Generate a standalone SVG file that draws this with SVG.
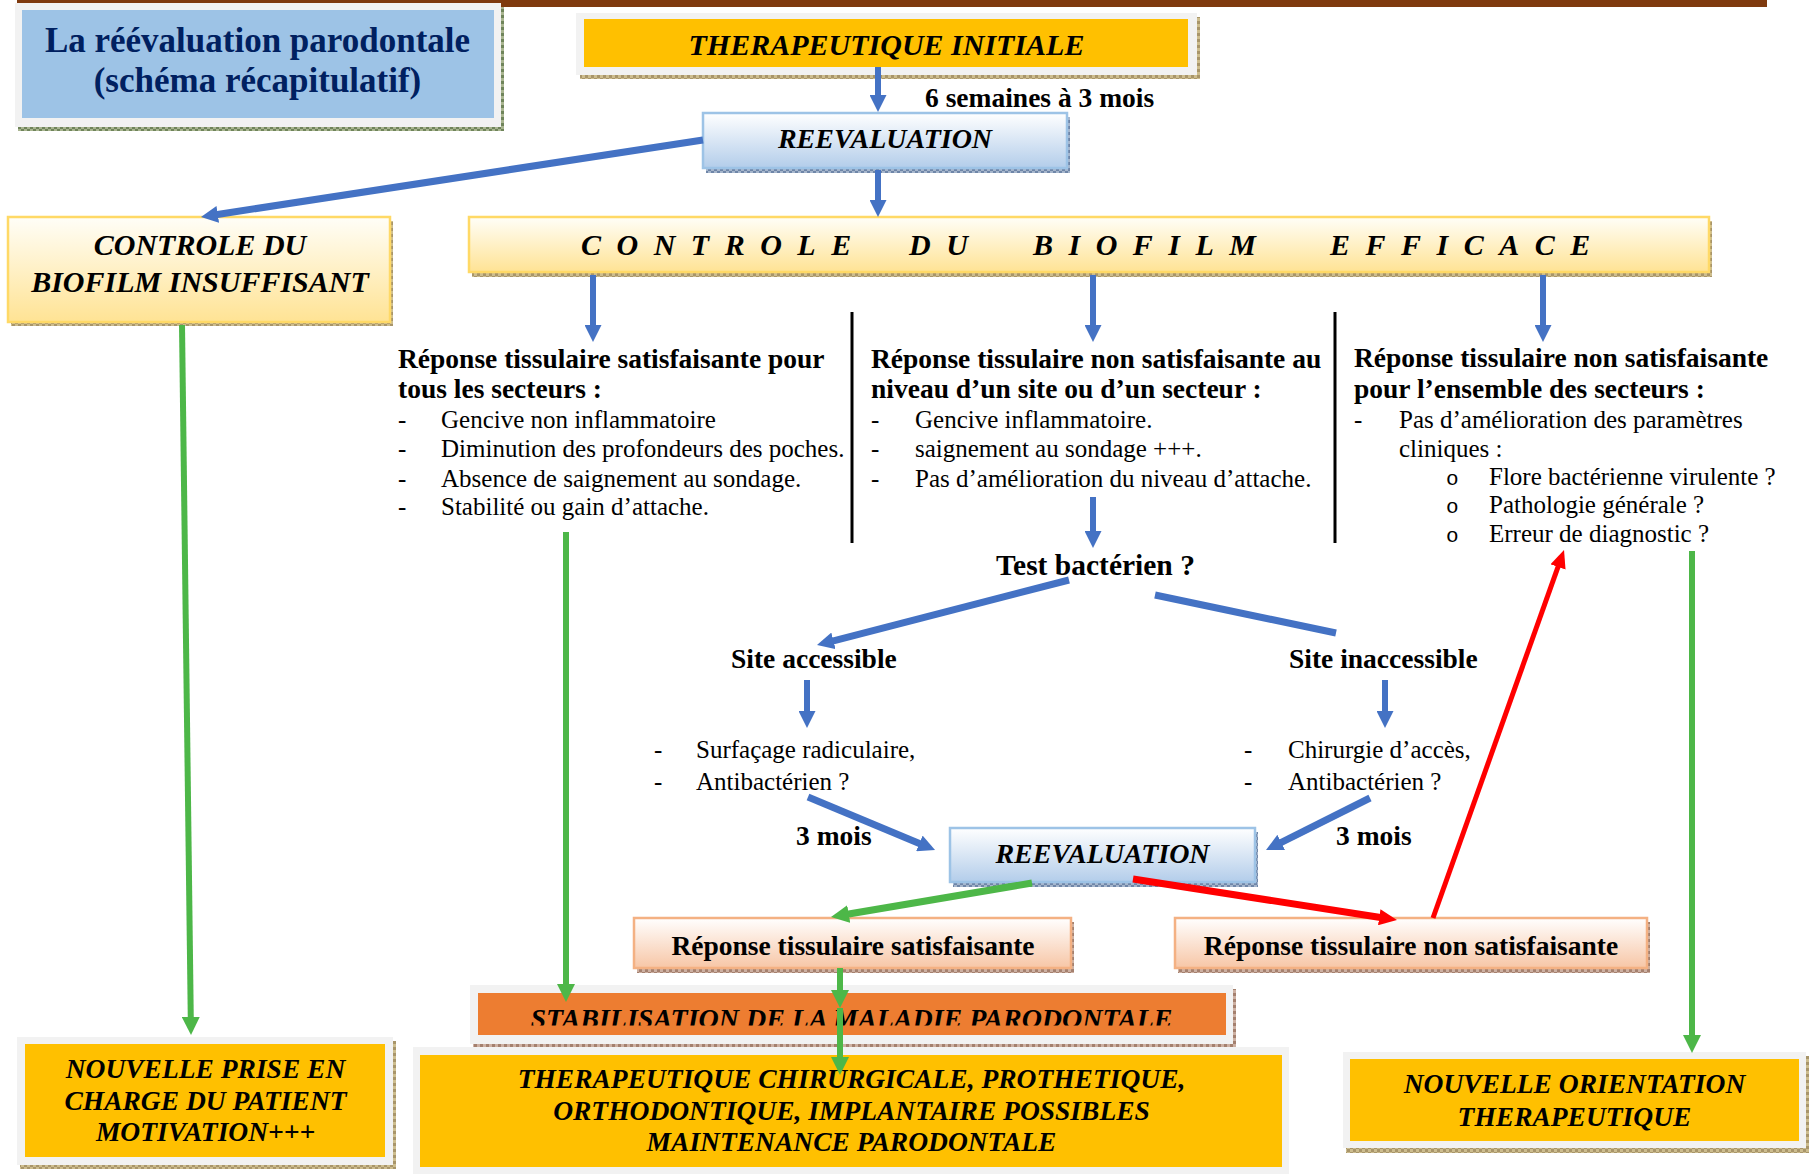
<svg xmlns="http://www.w3.org/2000/svg" width="1811" height="1174" viewBox="0 0 1811 1174">
<defs>
<style>
text{font-family:"Liberation Serif","Times New Roman",serif;fill:#000}
.bi{font-weight:bold;font-style:italic}
.b{font-weight:bold}
.r{font-size:25px}
.h{font-size:27.5px;font-weight:bold}
.mid{text-anchor:middle}
.o{font-family:"Liberation Mono","Courier New",monospace;font-size:21px}
.frame{fill:#f2f2f2}
.gold{fill:#ffc000}
.blue{stroke:#4472c4;fill:none}
.green{stroke:#4db748;fill:none}
.red{stroke:#ff0000;fill:none}
.sep{stroke:#000;stroke-width:3}
</style>
<pattern id="texTan" width="6" height="6" patternUnits="userSpaceOnUse"><rect width="6" height="6" fill="#cdbd8e"/><path d="M0 0h3v3H0zM3 3h3v3H3z" fill="#a8956a"/></pattern>
<pattern id="texGreen" width="6" height="6" patternUnits="userSpaceOnUse"><rect width="6" height="6" fill="#a9b590"/><path d="M0 0h3v3H0zM3 3h3v3H3z" fill="#6f845a"/></pattern>
<pattern id="texBlue" width="6" height="6" patternUnits="userSpaceOnUse"><rect width="6" height="6" fill="#a6b6cc"/><path d="M0 0h3v3H0zM3 3h3v3H3z" fill="#6f86a8"/></pattern>
<pattern id="texPink" width="6" height="6" patternUnits="userSpaceOnUse"><rect width="6" height="6" fill="#cdb0a2"/><path d="M0 0h3v3H0zM3 3h3v3H3z" fill="#a4806e"/></pattern>
<linearGradient id="gYellow" x1="0" y1="0" x2="0" y2="1"><stop offset="0" stop-color="#fffef8"/><stop offset="1" stop-color="#ffe394"/></linearGradient>
<linearGradient id="gBlue" x1="0" y1="0" x2="0" y2="1"><stop offset="0" stop-color="#ffffff"/><stop offset="1" stop-color="#b3cdea"/></linearGradient>
<linearGradient id="gPink" x1="0" y1="0" x2="0" y2="1"><stop offset="0" stop-color="#ffffff"/><stop offset="1" stop-color="#f7c6a6"/></linearGradient>
<marker id="mBlue" viewBox="0 0 17 17" refX="2" refY="8.5" markerWidth="17" markerHeight="17" markerUnits="userSpaceOnUse" orient="auto"><path d="M0 0L17 8.5L0 17z" fill="#4472c4"/></marker>
<marker id="mGreen" viewBox="0 0 18 18" refX="3" refY="9" markerWidth="18" markerHeight="18" markerUnits="userSpaceOnUse" orient="auto"><path d="M0 0L18 9L0 18z" fill="#4db748"/></marker>
<marker id="mRed" viewBox="0 0 18 16" refX="3" refY="8" markerWidth="18" markerHeight="16" markerUnits="userSpaceOnUse" orient="auto"><path d="M0 0L18 8L0 16z" fill="#ff0000"/></marker>
<clipPath id="clipStab"><rect x="470" y="985" width="763" height="40.5"/></clipPath>
</defs>

<rect x="17" y="0" width="1750" height="7" fill="#7f3a0e"/>

<g id="title">
<rect x="18" y="7" width="486" height="124" fill="url(#texGreen)"/>
<rect class="frame" x="15" y="3" width="486" height="124"/>
<rect x="22" y="10" width="472" height="108" fill="#9dc3e6"/>
<text class="b mid" x="257.5" y="52" font-size="35" style="fill:#002060">La réévaluation parodontale</text>
<text class="b mid" x="257.5" y="92" font-size="35" style="fill:#002060">(schéma récapitulatif)</text>
</g>

<g id="therapeutique-initiale">
<rect x="580" y="17" width="620" height="62" fill="url(#texTan)"/>
<rect class="frame" x="576" y="13" width="621" height="62"/>
<rect class="gold" x="584" y="19" width="604" height="48"/>
<text class="bi mid" x="886.5" y="55" font-size="30">THERAPEUTIQUE INITIALE</text>
</g>

<g id="reevaluation-1">
<rect x="706" y="117" width="364" height="56" fill="url(#texBlue)"/>
<rect x="703" y="113" width="364" height="55" fill="url(#gBlue)" stroke="#9dc3e6" stroke-width="2.5"/>
<text class="bi mid" x="885" y="148" font-size="28">REEVALUATION</text>
</g>

<g id="label-6-semaines">
<text class="b" x="925" y="107" font-size="27.5">6 semaines à 3 mois</text>
</g>

<g id="controle-insuffisant">
<rect x="11" y="221" width="382" height="105" fill="url(#texTan)"/>
<rect x="8" y="217" width="382" height="105" fill="url(#gYellow)" stroke="#ffd966" stroke-width="2.5"/>
<text class="bi mid" x="200" y="255" font-size="30">CONTROLE DU</text>
<text class="bi mid" x="200" y="292" font-size="30">BIOFILM INSUFFISANT</text>
</g>

<g id="controle-efficace">
<rect x="472" y="221" width="1240" height="56" fill="url(#texTan)"/>
<rect x="469" y="217" width="1240" height="55" fill="url(#gYellow)" stroke="#ffd966" stroke-width="2.5"/>
<text class="bi" y="255" font-size="30" letter-spacing="15.5"><tspan x="581">CONTROLE</tspan><tspan x="909">DU</tspan><tspan x="1033">BIOFILM</tspan><tspan x="1330">EFFICACE</tspan></text>
</g>

<g id="colonne-satisfaisante">
<text class="h" x="398" y="368">Réponse tissulaire satisfaisante pour</text>
<text class="h" x="398" y="398">tous les secteurs :</text>
<text class="r" x="398" y="428">-</text><text class="r" x="441" y="428">Gencive non inflammatoire</text>
<text class="r" x="398" y="457">-</text><text class="r" x="441" y="457">Diminution des profondeurs des poches.</text>
<text class="r" x="398" y="487">-</text><text class="r" x="441" y="487">Absence de saignement au sondage.</text>
<text class="r" x="398" y="515">-</text><text class="r" x="441" y="515">Stabilité ou gain d’attache.</text>
</g>

<g id="colonne-site">
<text class="h" x="871" y="368">Réponse tissulaire non satisfaisante au</text>
<text class="h" x="871" y="398">niveau d’un site ou d’un secteur :</text>
<text class="r" x="871" y="428">-</text><text class="r" x="915" y="428">Gencive inflammatoire.</text>
<text class="r" x="871" y="457">-</text><text class="r" x="915" y="457">saignement au sondage +++.</text>
<text class="r" x="871" y="487">-</text><text class="r" x="915" y="487">Pas d’amélioration du niveau d’attache.</text>
</g>

<g id="colonne-ensemble">
<text class="h" x="1354" y="367">Réponse tissulaire non satisfaisante</text>
<text class="h" x="1354" y="398">pour l’ensemble des secteurs :</text>
<text class="r" x="1354" y="428">-</text><text class="r" x="1399" y="428">Pas d’amélioration des paramètres</text>
<text class="r" x="1399" y="457">cliniques :</text>
<text class="o" x="1446" y="485">o</text><text class="r" x="1489" y="485">Flore bactérienne virulente ?</text>
<text class="o" x="1446" y="513">o</text><text class="r" x="1489" y="513">Pathologie générale ?</text>
<text class="o" x="1446" y="542">o</text><text class="r" x="1489" y="542">Erreur de diagnostic ?</text>
</g>

<g id="separateurs">
<line class="sep" x1="852" y1="312" x2="852" y2="543"/>
<line class="sep" x1="1335" y1="312" x2="1335" y2="543"/>
</g>

<g id="test-bacterien">
<text class="b mid" x="1095.5" y="575" font-size="29.5">Test bactérien ?</text>
</g>

<g id="site-accessible">
<text class="b" x="731" y="668" font-size="27.5">Site accessible</text>
<text class="r" x="654" y="758">-</text><text class="r" x="696" y="758">Surfaçage radiculaire,</text>
<text class="r" x="654" y="790">-</text><text class="r" x="696" y="790">Antibactérien ?</text>
</g>

<g id="site-inaccessible">
<text class="b" x="1289" y="668" font-size="27.5">Site inaccessible</text>
<text class="r" x="1244" y="758">-</text><text class="r" x="1288" y="758">Chirurgie d’accès,</text>
<text class="r" x="1244" y="790">-</text><text class="r" x="1288" y="790">Antibactérien ?</text>
</g>

<g id="labels-3-mois">
<text class="b" x="796" y="845" font-size="27.5">3 mois</text>
<text class="b" x="1336" y="845" font-size="27.5">3 mois</text>
</g>

<g id="reevaluation-2">
<rect x="953" y="832" width="305" height="55" fill="url(#texBlue)"/>
<rect x="950" y="828" width="305" height="54" fill="url(#gBlue)" stroke="#9dc3e6" stroke-width="2.5"/>
<text class="bi mid" x="1102.5" y="863" font-size="28">REEVALUATION</text>
</g>

<g id="reponse-satisfaisante">
<rect x="637" y="922" width="437" height="51" fill="url(#texPink)"/>
<rect x="634" y="918" width="437" height="50" fill="url(#gPink)" stroke="#f4b183" stroke-width="2.5"/>
<text class="b mid" x="853" y="955" font-size="27.5">Réponse tissulaire satisfaisante</text>
</g>

<g id="reponse-non-satisfaisante">
<rect x="1178" y="922" width="472" height="51" fill="url(#texPink)"/>
<rect x="1175" y="918" width="472" height="50" fill="url(#gPink)" stroke="#f4b183" stroke-width="2.5"/>
<text class="b mid" x="1411" y="955" font-size="27.5">Réponse tissulaire non satisfaisante</text>
</g>

<g id="stabilisation">
<rect x="473" y="989" width="763" height="59" fill="url(#texPink)"/>
<rect class="frame" x="470" y="985" width="763" height="59"/>
<rect x="478" y="993" width="748" height="42" fill="#ed7d31"/>
<text class="bi mid" x="851.5" y="1028" font-size="28" clip-path="url(#clipStab)">STABILISATION DE LA MALADIE PARODONTALE</text>
</g>

<g id="therapeutique-chirurgicale">
<rect class="frame" x="413" y="1047" width="876" height="127"/>
<rect class="gold" x="420" y="1055" width="862" height="112"/>
<text class="bi mid" x="851.5" y="1088" font-size="27.5">THERAPEUTIQUE CHIRURGICALE, PROTHETIQUE,</text>
<text class="bi mid" x="851.5" y="1120" font-size="27.5">ORTHODONTIQUE, IMPLANTAIRE POSSIBLES</text>
<text class="bi mid" x="851.5" y="1151" font-size="27.5">MAINTENANCE PARODONTALE</text>
</g>

<g id="nouvelle-prise-en-charge">
<rect x="20" y="1041" width="376" height="128" fill="url(#texTan)"/>
<rect class="frame" x="17" y="1037" width="376" height="128"/>
<rect class="gold" x="25" y="1044" width="360" height="113"/>
<text class="bi mid" x="205.5" y="1078" font-size="27.5">NOUVELLE PRISE EN</text>
<text class="bi mid" x="205.5" y="1110" font-size="27.5">CHARGE DU PATIENT</text>
<text class="bi mid" x="205.5" y="1141" font-size="27.5">MOTIVATION+++</text>
</g>

<g id="nouvelle-orientation">
<rect x="1346" y="1056" width="463" height="97" fill="url(#texTan)"/>
<rect class="frame" x="1343" y="1052" width="463" height="96"/>
<rect class="gold" x="1350" y="1059" width="449" height="82"/>
<text class="bi mid" x="1574.5" y="1093" font-size="27.5">NOUVELLE ORIENTATION</text>
<text class="bi mid" x="1574.5" y="1126" font-size="27.5">THERAPEUTIQUE</text>
</g>

<g id="connecteurs">
<line class="blue" x1="878" y1="67" x2="878" y2="97" stroke-width="6" marker-end="url(#mBlue)"/>
<line class="blue" x1="878" y1="170" x2="878" y2="202" stroke-width="6" marker-end="url(#mBlue)"/>
<line class="blue" x1="703" y1="140" x2="215.8" y2="214.7" stroke-width="7" marker-end="url(#mBlue)"/>
<line class="blue" x1="593" y1="275" x2="593" y2="327" stroke-width="6" marker-end="url(#mBlue)"/>
<line class="blue" x1="1093" y1="275" x2="1093" y2="327" stroke-width="6" marker-end="url(#mBlue)"/>
<line class="blue" x1="1543" y1="275" x2="1543" y2="327" stroke-width="6" marker-end="url(#mBlue)"/>
<line class="blue" x1="1093" y1="497" x2="1093" y2="533" stroke-width="6" marker-end="url(#mBlue)"/>
<line class="blue" x1="1069" y1="580" x2="831.5" y2="641.3" stroke-width="7" marker-end="url(#mBlue)"/>
<line class="blue" x1="1155" y1="595" x2="1336" y2="633" stroke-width="7"/>
<line class="blue" x1="807" y1="680" x2="807" y2="713" stroke-width="6" marker-end="url(#mBlue)"/>
<line class="blue" x1="1385" y1="680" x2="1385" y2="713" stroke-width="6" marker-end="url(#mBlue)"/>
<line class="blue" x1="808" y1="797" x2="921.2" y2="844.2" stroke-width="7" marker-end="url(#mBlue)"/>
<line class="blue" x1="1370" y1="798" x2="1279.4" y2="843.3" stroke-width="7" marker-end="url(#mBlue)"/>
<line class="green" x1="182" y1="325" x2="190.8" y2="1020" stroke-width="6" marker-end="url(#mGreen)"/>
<line class="green" x1="566" y1="532" x2="566" y2="987" stroke-width="6" marker-end="url(#mGreen)"/>
<line class="green" x1="1032" y1="883" x2="845.8" y2="914.5" stroke-width="7" marker-end="url(#mGreen)"/>
<line class="green" x1="840" y1="968" x2="840" y2="993" stroke-width="6" marker-end="url(#mGreen)"/>
<line class="green" x1="840" y1="1008" x2="840" y2="1060" stroke-width="6" marker-end="url(#mGreen)"/>
<line class="green" x1="1692" y1="551" x2="1692" y2="1038" stroke-width="6" marker-end="url(#mGreen)"/>
<line class="red" x1="1133" y1="879" x2="1382.2" y2="917.7" stroke-width="7" marker-end="url(#mRed)"/>
<line class="red" x1="1433" y1="918" x2="1559" y2="564.1" stroke-width="5" marker-end="url(#mRed)"/>
</g>
</svg>
